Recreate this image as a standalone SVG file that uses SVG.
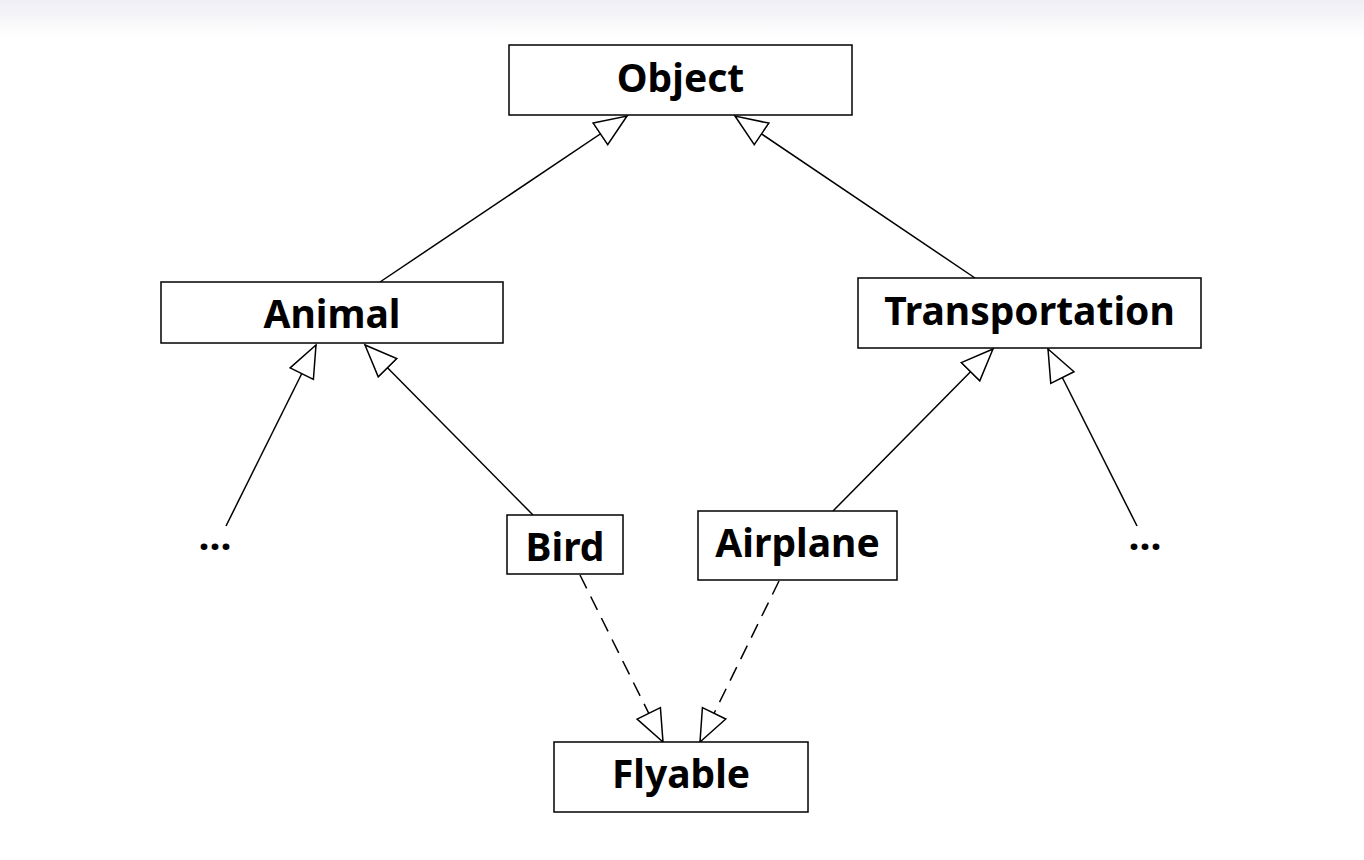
<svg xmlns="http://www.w3.org/2000/svg" width="1364" height="860" viewBox="0 0 1364 860">
<style>
.box{fill:#fff;stroke:#000;stroke-width:1.5}
.lbl{font-family:"Noto Sans","DejaVu Sans",sans-serif;font-weight:bold;font-size:39px;fill:#000;text-anchor:middle}
.edge{fill:none;stroke:#000;stroke-width:1.5;marker-end:url(#tri)}
.dash{stroke-dasharray:15 9}
</style>
<defs>
<linearGradient id="bg" x1="0" y1="0" x2="0" y2="1">
<stop offset="0" stop-color="#eeeef4"/>
<stop offset="1" stop-color="#ffffff"/>
</linearGradient>
<marker id="tri" viewBox="-1 -15 36 30" refX="32" refY="0" markerWidth="36" markerHeight="30" markerUnits="userSpaceOnUse" orient="auto">
<path d="M0,-13 L32,0 L0,13 Z" fill="#fff" stroke="#000" stroke-width="1.5" stroke-dasharray="none"/>
</marker>
</defs>
<rect x="0" y="0" width="1364" height="860" fill="#fff"/>
<rect x="0" y="0" width="1364" height="37" fill="url(#bg)"/>
<g id="connectors">
<path class="edge" d="M380,282 L627,116"/>
<path class="edge" d="M975,278 L735,116"/>
<path class="edge" d="M226,526 L316,345"/>
<path class="edge" d="M533,515 L365,345"/>
<path class="edge" d="M833,511 L993,349"/>
<path class="edge" d="M1137,526 L1048,349"/>
<path class="edge dash" d="M580,575 L663,742"/>
<path class="edge dash" d="M779,581 L700,742"/>
</g>
<g id="object"><rect class="box" x="509" y="45" width="343" height="70"/><text class="lbl" x="680.5" y="92">Object</text></g>
<g id="animal"><rect class="box" x="161" y="282" width="342" height="61"/><text class="lbl" x="332" y="328">Animal</text></g>
<g id="transportation"><rect class="box" x="858" y="278" width="343" height="70"/><text class="lbl" x="1029.5" y="325">Transportation</text></g>
<g id="bird"><rect class="box" x="507" y="515" width="116" height="59"/><text class="lbl" x="565" y="561">Bird</text></g>
<g id="airplane"><rect class="box" x="698" y="511" width="199" height="69"/><text class="lbl" x="797.5" y="557">Airplane</text></g>
<g id="flyable"><rect class="box" x="554" y="742" width="254" height="70"/><text class="lbl" x="681" y="788">Flyable</text></g>
<g id="etc-left"><text class="lbl" x="215" y="550">...</text></g>
<g id="etc-right"><text class="lbl" x="1145" y="550">...</text></g>
</svg>
